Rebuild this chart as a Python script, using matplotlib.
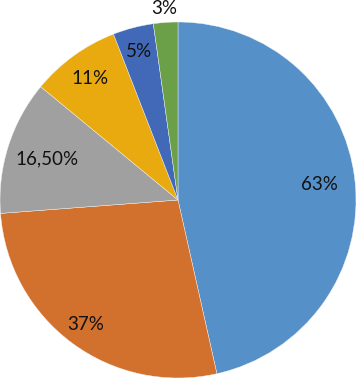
import numpy as np
import matplotlib
matplotlib.use("Agg")
import matplotlib.pyplot as plt

values = [63, 37, 16.5, 11, 5, 3]
labels = ["63%", "37%", "16,50%", "11%", "5%", "3%"]
colors = ["#5690C8", "#D2702E", "#A0A0A0", "#E8AA0E", "#4169B8", "#6BA048"]
label_dist = [0.80, 0.87, 0.77, 0.84, 0.86, 1.08]

fig = plt.figure(figsize=(3.56, 3.80), dpi=100)
ax = fig.add_axes([0, 0, 1, 1])
wedges, _ = ax.pie(values, colors=colors, startangle=90, counterclock=False,
                   radius=1.0, center=(0, 0),
                   wedgeprops=dict(linewidth=0.3, edgecolor="#f4f4f4"))
for w, lab, d in zip(wedges, labels, label_dist):
    ang = np.deg2rad((w.theta1 + w.theta2) / 2)
    ax.text(d * np.cos(ang), d * np.sin(ang), lab, ha="center", va="center",
            fontsize=13.5, family=["Lato", "DejaVu Sans"], color="#111111")
ax.set_xlim(-1.0, 1.0)
ax.set_ylim(-180 / 178, 200 / 178)
ax.set_aspect("auto")
ax.axis("off")
fig.savefig("out.png", dpi=100)
